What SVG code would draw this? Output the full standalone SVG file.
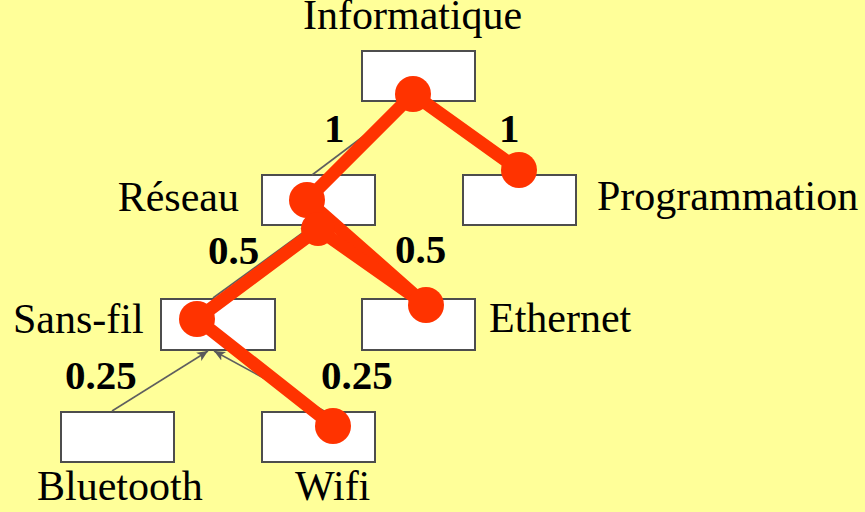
<svg xmlns="http://www.w3.org/2000/svg" width="865" height="512" viewBox="0 0 865 512">
  <style>
    .box { fill: #ffffff; stroke: #4d4d4d; stroke-width: 2; }
    .lbl { font-family: "Liberation Serif", "Times New Roman", serif; font-size: 42px; fill: #000000; }
    .w { font-family: "Liberation Serif", "Times New Roman", serif; font-size: 41px; font-weight: bold; fill: #000000; }
    .edge { stroke: #5f5f5f; stroke-width: 1.6; fill: none; marker-end: url(#arr); }
    .hl { stroke: #ff3300; stroke-width: 13; stroke-linecap: round; fill: none; }
    .dot { fill: #ff3300; }
  </style>
  <defs>
    <marker id="arr" markerUnits="userSpaceOnUse" markerWidth="11" markerHeight="11" viewBox="0 0 10 10" refX="10" refY="5" orient="auto">
      <path d="M0,0.5 L10,5 L0,9.5 L2.5,5 z" fill="#5a5a5a"/>
    </marker>
  </defs>
  <rect x="0" y="0" width="865" height="512" fill="#ffff99"/>

  <g id="informatique">
    <rect class="box" x="362" y="51" width="113" height="50"/>
    <text class="lbl" x="303" y="29">Informatique</text>
  </g>
  <g id="reseau">
    <rect class="box" x="262" y="175" width="113" height="50"/>
    <text class="lbl" x="239" y="211" text-anchor="end">Réseau</text>
  </g>
  <g id="programmation">
    <rect class="box" x="463" y="175" width="113" height="50"/>
    <text class="lbl" x="597" y="210">Programmation</text>
  </g>
  <g id="sans-fil">
    <rect class="box" x="161" y="299" width="114" height="51"/>
    <text class="lbl" x="13" y="333">Sans-fil</text>
  </g>
  <g id="ethernet">
    <rect class="box" x="362" y="299" width="113" height="51"/>
    <text class="lbl" x="489" y="332">Ethernet</text>
  </g>
  <g id="bluetooth">
    <rect class="box" x="61" y="412" width="113" height="50"/>
    <text class="lbl" x="37" y="500">Bluetooth</text>
  </g>
  <g id="wifi">
    <rect class="box" x="262" y="412" width="113" height="50"/>
    <text class="lbl" x="295" y="500">Wifi</text>
  </g>

  <g id="connectors">
    <line class="edge" x1="312" y1="175" x2="409" y2="102"/>
    <line class="edge" x1="213" y1="298" x2="312" y2="226"/>
    <line class="edge" x1="112" y1="411" x2="208" y2="351"/>
    <line class="edge" x1="326" y1="412" x2="214" y2="351"/>
  </g>

  <g id="path-highlight">
    <line class="hl" x1="413" y1="94" x2="307" y2="200"/>
    <line class="hl" x1="413" y1="94" x2="519" y2="170"/>
    <line class="hl" x1="307" y1="200" x2="426" y2="305"/>
    <line class="hl" x1="318" y1="229" x2="426" y2="305"/>
    <line class="hl" x1="318" y1="229" x2="197" y2="319"/>
    <line class="hl" x1="197" y1="319" x2="333" y2="426"/>
    <circle class="dot" cx="413" cy="94" r="18"/>
    <circle class="dot" cx="519" cy="170" r="18"/>
    <circle class="dot" cx="307" cy="200" r="18"/>
    <circle class="dot" cx="318" cy="229" r="17"/>
    <circle class="dot" cx="426" cy="305" r="18"/>
    <circle class="dot" cx="197" cy="319" r="18"/>
    <circle class="dot" cx="333" cy="426" r="18"/>
  </g>

  <g id="weights">
    <text class="w" x="324" y="142">1</text>
    <text class="w" x="499" y="142">1</text>
    <text class="w" x="208" y="264">0.5</text>
    <text class="w" x="395" y="263">0.5</text>
    <text class="w" x="65" y="389">0.25</text>
    <text class="w" x="321" y="389">0.25</text>
  </g>
</svg>
